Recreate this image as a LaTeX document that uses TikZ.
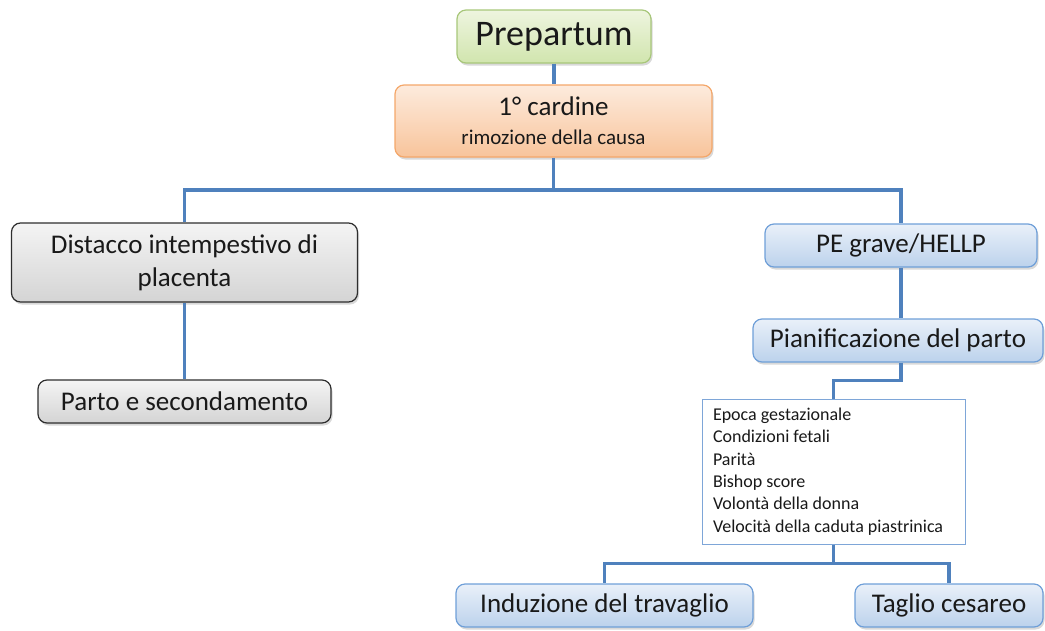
\documentclass[tikz,border=0pt]{standalone}
\usepackage{fontspec}
\setmainfont{Carlito}
\usetikzlibrary{shadows}
\definecolor{linkblue}{HTML}{4F81BD}
\definecolor{greenline}{HTML}{A8C77A}
\definecolor{greentop}{HTML}{EEF5DF}
\definecolor{greenbot}{HTML}{D1E5AE}
\definecolor{orangeline}{HTML}{F4A76A}
\definecolor{orangetop}{HTML}{FDEBDD}
\definecolor{orangebot}{HTML}{F8C49B}
\definecolor{grayline}{HTML}{2E2E2E}
\definecolor{graytop}{HTML}{F4F4F4}
\definecolor{graybot}{HTML}{D4D4D4}
\definecolor{blueline}{HTML}{6F9FD8}
\definecolor{bluetop}{HTML}{E9F0F9}
\definecolor{bluebot}{HTML}{BCD2EC}
\definecolor{listline}{HTML}{7EA6D8}

\begin{document}
\begin{tikzpicture}[x=1pt,y=-1pt,
  box/.style={rectangle, rounded corners=9pt, line width=1.2pt, text=black!90,
    inner sep=0pt, align=center, font=\fontsize{27}{33}\selectfont,
    drop shadow={shadow xshift=1.5pt, shadow yshift=-2.5pt, opacity=.3}},
  greenbox/.style={box, draw=greenline, top color=greentop, bottom color=greenbot},
  orangebox/.style={box, draw=orangeline, top color=orangetop, bottom color=orangebot},
  graybox/.style={box, draw=grayline, top color=graytop, bottom color=graybot},
  bluebox/.style={box, draw=blueline, top color=bluetop, bottom color=bluebot},
  listbox/.style={rectangle, draw=listline, line width=1pt, fill=white, text=black!90,
    inner xsep=11pt, inner ysep=0pt, text width=241pt, minimum height=145pt,
    align=flush left, font=\fontsize{18}{22.4}\selectfont},
  link/.style={draw=linkblue, line width=3.5pt}]
  \useasboundingbox (0,0) rectangle (1045,630);

  \node[greenbox, minimum width=194pt, minimum height=53pt,
    font=\fontsize{36}{43}\selectfont] (prep) at (554,36.5) {Prepartum};
  \node[orangebox, minimum width=317pt, minimum height=72pt] (card) at (553.5,121)
    {1° cardine\\[-4pt]{\fontsize{21}{25}\selectfont rimozione della causa}};
  \node[graybox, minimum width=346pt, minimum height=79pt] (dist) at (184.5,262.5)
    {Distacco intempestivo di\\placenta};
  \node[graybox, minimum width=293pt, minimum height=43pt] (parto) at (184.5,401.5)
    {Parto e secondamento};
  \node[bluebox, minimum width=272pt, minimum height=43pt] (pe) at (901,245.5)
    {PE grave/HELLP};
  \node[bluebox, minimum width=290pt, minimum height=43pt] (pian) at (898,340.5)
    {Pianificazione del parto};
  \node[listbox] (crit) at (833.5,471.5)
    {Epoca gestazionale\\Condizioni fetali\\Parità\\Bishop score\\Volontà della donna\\Velocità della caduta piastrinica};
  \node[bluebox, minimum width=297pt, minimum height=43pt] (ind) at (604.5,605.5)
    {Induzione del travaglio};
  \node[bluebox, minimum width=188pt, minimum height=43pt] (tag) at (949,605.5)
    {Taglio cesareo};

  \coordinate (fork1) at (553.5,190);
  \draw[link] (prep.south) -- (prep.south |- card.north);
  \draw[link] (card.south) -- (fork1);
  \draw[link] (dist.north) |- (fork1) -| (pe.north);
  \draw[link] (dist) -- (parto);
  \draw[link] (pe.south) -- (pe.south |- pian.north);
  \draw[link] ([xshift=3pt]pian.south) -- ++(0,18) -| (crit.north);
  \draw[link] (crit.south) -- ++(0,19) coordinate (fork3) -| (ind.north);
  \draw[link] (fork3) -| (tag.north);
\end{tikzpicture}
\end{document}
